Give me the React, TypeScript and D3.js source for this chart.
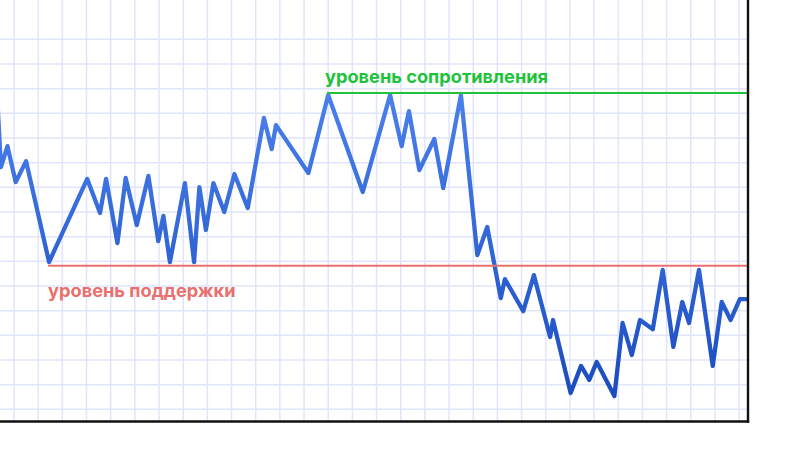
import React from "react";
import * as d3 from "d3";

// time (grid units) and price (grid units)
const times = [
  -0.7, -0.54, -0.27, 0.07, 0.5, 1.45, 3.03, 3.56, 3.81, 4.28, 4.62, 5.08, 5.56, 5.97, 6.18, 6.45,
  7.07, 7.45, 7.67, 7.94, 8.25, 8.7, 9.12, 9.67, 10.34, 10.66, 10.84, 12.18, 13.0, 14.43, 15.56,
  16.04, 16.34, 16.77, 17.39, 17.76, 18.49, 19.17, 19.58, 20.14, 20.31, 21.07, 21.51, 22.18, 22.3,
  23.03, 23.46, 23.8, 24.11, 24.84, 25.18, 25.56, 25.9, 26.43, 26.84, 27.28, 27.65, 27.93, 28.34,
  28.91, 29.28, 29.65, 30.03, 30.5,
];
const prices = [
  12.74, 9.82, 10.67, 9.21, 10.06, 5.97, 9.34, 7.96, 9.34, 6.74, 9.38, 7.47, 9.46, 6.82, 7.84, 5.97,
  9.17, 5.97, 9.01, 7.27, 9.17, 8.0, 9.54, 8.16, 11.81, 10.55, 11.52, 9.58, 12.74, 8.81, 12.74,
  10.67, 12.09, 9.7, 10.96, 8.97, 12.74, 6.25, 7.39, 4.51, 5.28, 3.98, 5.44, 2.93, 3.62,
  0.66, 1.76, 1.19, 1.92, 0.54, 3.5, 2.2, 3.62, 3.25, 5.65, 2.53, 4.35, 3.5, 5.65,
  1.76, 4.35, 3.62, 4.47, 4.47,
];
const supportLevel = 5.82;
const supportStart = 1.41;
const resistanceLevel = 12.82;
const resistanceStart = 12.95;
const supportLabel = "уровень поддержки";
const resistanceLabel = "уровень сопротивления";
const xGridTicks = d3.range(0, 31);
const yGridTicks = d3.range(0, 16);

const W = 800;
const H = 450;
const axisRight = 748;
const axisBottom = 421.5;

export default function App() {
  const x = d3.scaleLinear().domain([0, 30]).range([14, 739.1]);
  const y = d3.scaleLinear().domain([0, 15]).range([409.3, 39.3]);
  const pts = times.map((t, i) => [t, prices[i]] as [number, number]);
  const line = d3
    .line<[number, number]>()
    .x((d) => x(d[0]))
    .y((d) => y(d[1]));
  const font = "Inter, sans-serif";
  return (
    <div style={{ position: "fixed", left: 0, top: 0, width: W, height: H, background: "#fff" }}>
      <svg width={W} height={H} style={{ display: "block" }}>
        <defs>
          <clipPath id="plot">
            <rect x={0} y={0} width={axisRight} height={axisBottom} />
          </clipPath>
          <linearGradient id="lg" gradientUnits="userSpaceOnUse" x1={0} x2={0} y1={y(12.74)} y2={y(0.54)}>
            <stop offset="0" stopColor="#4a80ec" />
            <stop offset="1" stopColor="#1a4cc0" />
          </linearGradient>
        </defs>
        {xGridTicks.map((t) => (
          <line key={"vx" + t} x1={x(t)} x2={x(t)} y1={0} y2={axisBottom} stroke="#e0e5fb" strokeWidth={1.5} />
        ))}
        {yGridTicks.map((v) => (
          <line key={"hy" + v} x1={0} x2={axisRight} y1={y(v)} y2={y(v)} stroke="#e0e5fb" strokeWidth={1.5} />
        ))}
        <g clipPath="url(#plot)">
          <path
            d={line(pts) || ""}
            fill="none"
            stroke="url(#lg)"
            strokeWidth={4.3}
            strokeLinejoin="round"
            strokeLinecap="round"
          />
        </g>
        <line
          x1={x(resistanceStart)}
          x2={axisRight}
          y1={y(resistanceLevel)}
          y2={y(resistanceLevel)}
          stroke="#22c23c"
          strokeWidth={2}
        />
        <line
          x1={x(supportStart)}
          x2={axisRight}
          y1={y(supportLevel)}
          y2={y(supportLevel)}
          stroke="#e8706e"
          strokeWidth={2}
        />
        <text
          x={x(resistanceStart) - 2}
          y={y(resistanceLevel) - 10}
          fill="#1ec33b"
          fontFamily={font}
          fontWeight={700}
          fontSize={18.2}
        >
          {resistanceLabel}
        </text>
        <text
          x={x(supportStart)}
          y={y(supportLevel) + 31}
          fill="#e8706e"
          fontFamily={font}
          fontWeight={700}
          fontSize={18.2}
        >
          {supportLabel}
        </text>
        <line x1={axisRight} x2={axisRight} y1={0} y2={axisBottom + 1.2} stroke="#111" strokeWidth={2.4} />
        <line x1={0} x2={axisRight + 1.2} y1={axisBottom} y2={axisBottom} stroke="#111" strokeWidth={2.4} />
      </svg>
    </div>
  );
}
